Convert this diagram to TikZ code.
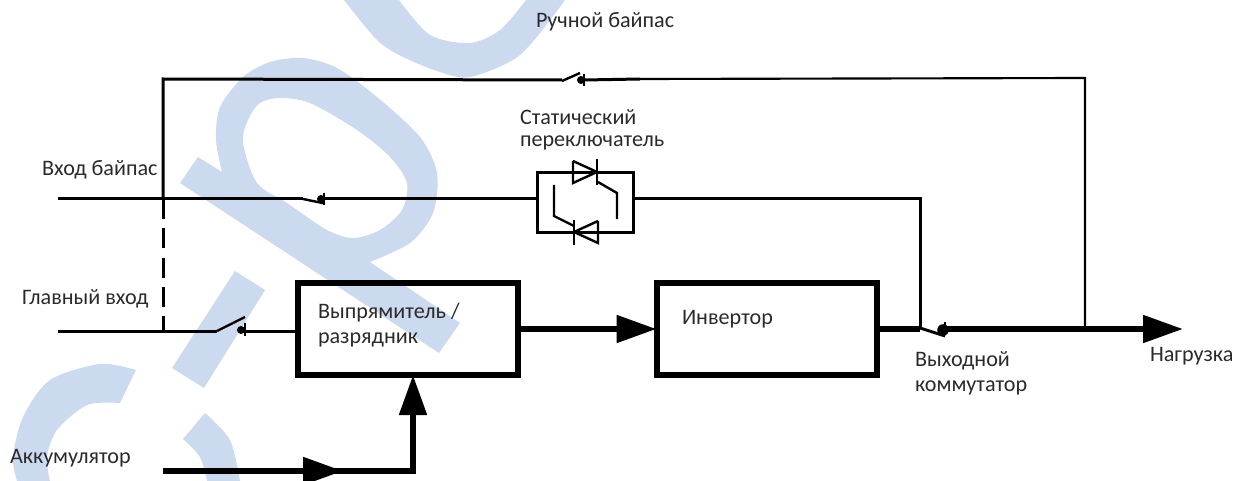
\documentclass[tikz,border=0pt]{standalone}
\usepackage{fontspec}
\setmainfont{Carlito}
\usetikzlibrary{arrows.meta,positioning,calc}
\definecolor{wmblue}{HTML}{CCDAF0}
\definecolor{txtgray}{HTML}{2A2A2A}
\tikzset{
  wire/.style={black,line width=2.25pt},
  thinwire/.style={black,line width=1.6pt},
  power/.style={black,line width=4.5pt},
  blockbox/.style={draw=black,line width=4.5pt,fill=none,outer sep=0pt,inner sep=0pt,minimum width=165pt,minimum height=69pt},
  ssbox/.style={draw=black,line width=2.25pt,fill=none,outer sep=0pt,inner sep=0pt,minimum width=72.5pt,minimum height=45.5pt},
  lbl/.style={text=txtgray,font=\fontsize{16.6}{19}\selectfont,anchor=west,inner sep=0pt,outer sep=0pt},
  bigtip/.style={-{Triangle[length=30pt,width=20pt]}},
}
\begin{document}
\begin{tikzpicture}[x=0.75pt,y=-0.75pt]
\useasboundingbox (0,0) rectangle (1249,481);
% ==========================================
% background marks
\fill [wmblue] (344,0) plot [smooth] coordinates { (344,0)(377,40)(403,57)(440,72)(470,77)(520,55)(565,0) }
  -- (526,0) plot [smooth] coordinates { (526,0)(500,30)(470,43)(430,35)(399,0) } -- cycle;
\fill [wmblue,even odd rule] (180,183) -- (439,353) -- (460,323) -- (370,262)
  -- plot [smooth] coordinates { (370,262)(410,243)(433,213)(437,173)(420,137)(377,97)(337,68)(303,58)(270,62)(243,77)(220,107)(216,140)(222,172) }
  -- (198,157) -- cycle
  plot [smooth cycle] coordinates { (243,143)(248,120)(260,103)(280,98)(310,103)(357,130)(390,157)(407,183)(402,210)(380,230)(353,238)(327,230)(287,203)(257,183) };
\fill [wmblue] (235,271) -- (265,290) -- (204,388) -- (172,368) -- cycle;
\fill [wmblue] (136,370) -- plot [smooth] coordinates { (136,370)(100,364)(50,380)(23,417)(13,457)(17,481) }
  -- plot [smooth] coordinates { (50,481)(47,457)(57,430)(87,405)(120,403) } -- cycle;
\fill [wmblue] (205,413) -- plot [smooth] coordinates { (205,413)(230,440)(240,481) }
  -- plot [smooth] coordinates { (207,481)(200,457)(183,439) } -- cycle;
% =============================================
% blocks
\node [blockbox] (rectbox) at (408,329) {};
\node [blockbox] (invbox) at (766.5,329) {};
\node [ssbox] (ssw) at (585.5,202.5) {};
%
\node [lbl] (mblabel) at (536,22) {Ручной байпас};
\node [lbl] (sslabela) at (520,117) {Статический};
\node [lbl] (sslabelb) at (520,143) {переключатель};
\node [lbl] (bylabel) at (42,170) {Вход байпас};
\node [lbl] (mainlabel) at (22,299) {Главный вход};
\node [lbl] (rectlabela) at (318,313) {Выпрямитель /};
\node [lbl] (rectlabelb) at (318,340) {разрядник};
\node [lbl] (invlabel) at (682,319) {Инвертор};
\node [lbl] (outlabela) at (915,361) {Выходной};
\node [lbl] (outlabelb) at (915,388) {коммутатор};
\node [lbl] (loadlabel) at (1150,356) {Нагрузка};
\node [lbl] (batlabel) at (10,458) {Аккумулятор};
% =============================================
% points on the lines
\coordinate (bystart) at (58,199);
\coordinate (mainstart) at (58,331);
\coordinate (byjoin) at (163,199);
\coordinate (mainjoin) at (163,331);
\coordinate (mbcorner) at (163,79);
\coordinate (mbblade) at (562,80);
\coordinate (mbbar) at (584,80);
\coordinate (mbthin) at (640,79);
\coordinate (mbright) at (1085,78);
\coordinate (bypassblade) at (303,199);
\coordinate (bypassbar) at (324,199);
\coordinate (mainblade) at (217,331);
\coordinate (mainbar) at (245,331);
\coordinate (ssdown) at (920,199);
\coordinate (outblade) at (920,329);
\coordinate (outbar) at (943,329);
\coordinate (outjoin) at (1085,329);
\coordinate (loadend) at (1183,329);
\coordinate (batstart) at (163,471);
\coordinate (batarrow) at (343,471);
\coordinate (batcorner) at (413,471);
% =============================================
% bypass lines
\draw [wire] (mbblade) -- (mbcorner) -- (byjoin);
\draw [wire] (mbbar) -- (mbthin);
\draw [thinwire] (mbthin) -- (mbright) -- (outjoin);
\draw [wire,dash pattern=on 15pt off 7pt] (byjoin) -- (mainjoin);
\draw [wire] (bystart) -- (bypassblade);
\draw [wire] (bypassbar) -- (bypassbar -| ssw.west);
\draw [wire] (ssdown -| ssw.east) -- (ssdown) -- (outblade);
\draw [wire] (mainstart) -- (mainblade);
\draw [wire] (mainbar) -- (mainbar -| rectbox.west);
% switches
\draw [black,line width=1.8pt] plot coordinates { (562,81)(580,73) };
\fill [black] (581,80) circle (4);
\draw [black,line width=2.2pt] plot coordinates { (584,74.5)(584,86) };
\draw [black,line width=1.8pt] plot coordinates { (303,199)(325,203.5) };
\fill [black] (321,199) circle (4);
\draw [black,line width=2.2pt] plot coordinates { (324,193)(324,205) };
\draw [black,line width=1.8pt] plot coordinates { (217,331)(245,317) };
\fill [black] (241,330) circle (4);
\draw [black,line width=2.2pt] plot coordinates { (245,323)(245,336) };
\draw [black,line width=2.2pt] plot coordinates { (920,328)(945,336) };
\fill [black] (943,330) circle (5.8);
\draw [black,line width=1.2pt] plot coordinates { (945,322)(945,326) };
% =============================================
% static switch
\draw [black,line width=1.8pt] plot coordinates { (573,161)(597,172)(573,183)(573,161) };
\draw [black,line width=2.2pt] plot coordinates { (597,159)(597,185) };
\draw [black,line width=1.8pt] plot coordinates { (598,182)(617,193)(617,219) };
\draw [black,line width=1.8pt] plot coordinates { (598,221)(574,232)(598,243)(598,221) };
\draw [black,line width=2.2pt] plot coordinates { (574,220)(574,245) };
\draw [black,line width=1.8pt] plot coordinates { (554,185)(554,216)(574,226) };
% =============================================
% power path
\draw [power,bigtip] (rectbox.east) -- (invbox.west);
\draw [power] (invbox.east) -- (outblade);
\draw [power] (outbar) -- (outjoin);
\draw [power,bigtip] (outjoin) -- (loadend);
\draw [power] (batstart) -- (batcorner) -- ($(rectbox.south -| batcorner)+(0,40)$);
\draw [power,bigtip] (batstart) -- (batarrow);
\draw [power,bigtip] (batcorner) -- (batcorner |- rectbox.south);
% =============================================
\end{tikzpicture}
\end{document}
